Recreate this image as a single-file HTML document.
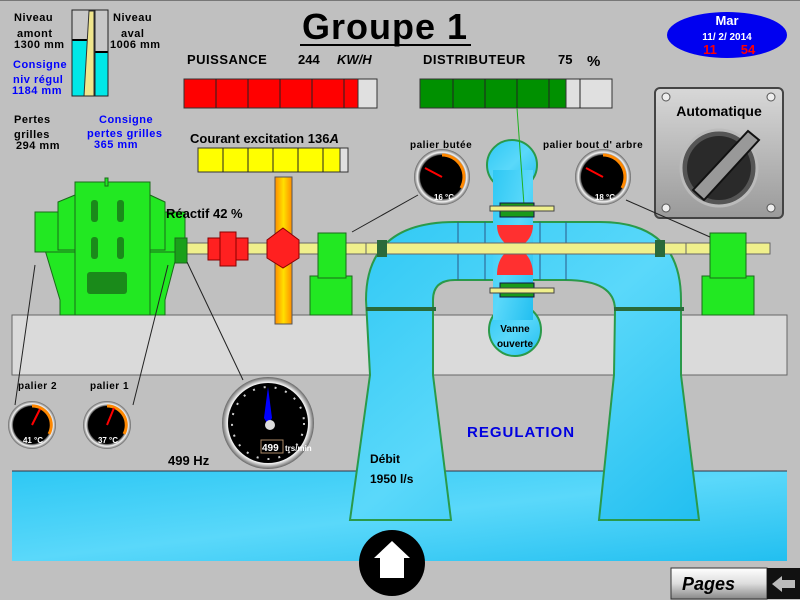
<!DOCTYPE html>
<html><head><meta charset="utf-8"><style>
html,body{margin:0;padding:0;background:#c0c0c0;}
svg{display:block;}
text{font-family:"Liberation Sans",sans-serif;font-weight:bold;}
</style></head><body>
<svg width="800" height="600" viewBox="0 0 800 600" xmlns="http://www.w3.org/2000/svg">
<defs>
<linearGradient id="wat" x1="0" y1="0" x2="1" y2="1"><stop offset="0" stop-color="#2ec8f4"/><stop offset="0.5" stop-color="#5ad8fa"/><stop offset="1" stop-color="#22bff0"/></linearGradient>
<linearGradient id="org" x1="0" x2="1"><stop offset="0" stop-color="#ff8c00"/><stop offset="0.5" stop-color="#ffe000"/><stop offset="1" stop-color="#ff8c00"/></linearGradient>
<linearGradient id="pnl" x1="0" y1="0" x2="0" y2="1"><stop offset="0" stop-color="#d8d8d8"/><stop offset="1" stop-color="#9a9a9a"/></linearGradient>
<linearGradient id="btn" x1="0" y1="0" x2="0" y2="1"><stop offset="0" stop-color="#fff"/><stop offset="0.5" stop-color="#ddd"/><stop offset="1" stop-color="#888"/></linearGradient>
<radialGradient id="bez"><stop offset="0.78" stop-color="#333"/><stop offset="0.88" stop-color="#f4f4f4"/><stop offset="1" stop-color="#666"/></radialGradient>
</defs>
<rect width="800" height="600" fill="#c0c0c0"/>
<line x1="0" y1="0.5" x2="800" y2="0.5" stroke="#777"/>
<!-- concrete -->
<rect x="12" y="315" width="775" height="60" fill="#dadada" stroke="#666"/>
<!-- water bottom -->
<rect x="12" y="471" width="775" height="90" fill="url(#wat)"/>
<line x1="12" y1="471" x2="787" y2="471" stroke="#334"/>

<!-- level gauge -->
<rect x="72" y="10" width="36" height="86" fill="#c8c8c8" stroke="#222"/>
<rect x="72" y="40" width="15" height="56" fill="#00e8e8"/>
<line x1="72" y1="40" x2="87" y2="40" stroke="#000" stroke-width="2"/>
<rect x="95" y="52" width="13" height="44" fill="#00e8e8"/>
<line x1="95" y1="52" x2="108" y2="52" stroke="#000" stroke-width="2"/>
<polygon points="89,11 94,11 94,96 84,96" fill="#f0e68c" stroke="#333"/>
<line x1="95" y1="10" x2="95" y2="96" stroke="#222"/>
<rect x="72" y="10" width="36" height="86" fill="none" stroke="#222"/>

<g font-size="11" fill="#000" letter-spacing="0.5">
<text x="14" y="21">Niveau</text><text x="17" y="37">amont</text><text x="14" y="48">1300  mm</text>
<text x="113" y="21">Niveau</text><text x="121" y="37">aval</text><text x="110" y="48">1006  mm</text>
<text x="14" y="123">Pertes</text><text x="14" y="138">grilles</text><text x="16" y="149">294   mm</text>
</g>
<g font-size="11" fill="#0000ff" letter-spacing="0.5">
<text x="13" y="68">Consigne</text><text x="13" y="83">niv régul</text><text x="12" y="94">1184  mm</text>
<text x="99" y="123">Consigne</text><text x="87" y="137">pertes grilles</text><text x="94" y="148">365   mm</text>
</g>

<!-- title -->
<text x="385" y="39" font-size="36" text-anchor="middle" letter-spacing="1">Groupe 1</text>
<line x1="300" y1="45" x2="471" y2="45" stroke="#000" stroke-width="2"/>

<!-- date -->
<ellipse cx="727" cy="35" rx="60" ry="23" fill="#0000f0"/>
<text x="727" y="25" font-size="13" fill="#fff" text-anchor="middle">Mar</text>
<text x="727" y="40" font-size="10" fill="#fff" text-anchor="middle">11/    2/  2014</text>
<text x="710" y="54" font-size="13" fill="#ff0000" text-anchor="middle">11</text>
<text x="748" y="54" font-size="13" fill="#ff0000" text-anchor="middle">54</text>

<!-- puissance -->
<text x="187" y="64" font-size="13" letter-spacing="0.5">PUISSANCE</text>
<text x="298" y="64" font-size="13">244</text><text x="337" y="64" font-size="13" font-style="italic">KW/H</text>
<rect x="184" y="79" width="193" height="29" fill="#e0e0e0" stroke="#333"/>
<rect x="184" y="79" width="174" height="29" fill="#ff0000" stroke="#333"/>
<g stroke="#222"><line x1="216" y1="79" x2="216" y2="108"/><line x1="248" y1="79" x2="248" y2="108"/><line x1="280" y1="79" x2="280" y2="108"/><line x1="312" y1="79" x2="312" y2="108"/><line x1="344" y1="79" x2="344" y2="108"/></g>

<!-- distributeur -->
<text x="423" y="64" font-size="13" letter-spacing="0.5">DISTRIBUTEUR</text>
<text x="558" y="64" font-size="13">75</text><text x="587" y="66" font-size="15" font-weight="normal">%</text>
<rect x="420" y="79" width="192" height="29" fill="#e0e0e0" stroke="#333"/>
<rect x="420" y="79" width="146" height="29" fill="#009000" stroke="#333"/>
<g stroke="#222"><line x1="453" y1="79" x2="453" y2="108"/><line x1="485" y1="79" x2="485" y2="108"/><line x1="517" y1="79" x2="517" y2="108"/><line x1="549" y1="79" x2="549" y2="108"/><line x1="580" y1="79" x2="580" y2="108"/></g>

<!-- courant -->
<text x="190" y="143" font-size="13">Courant excitation  136<tspan font-style="italic">A</tspan></text>
<rect x="198" y="148" width="150" height="24" fill="#e0e0e0" stroke="#333"/>
<rect x="198" y="148" width="142" height="24" fill="#ffff00" stroke="#333"/>
<g stroke="#222"><line x1="223" y1="148" x2="223" y2="172"/><line x1="248" y1="148" x2="248" y2="172"/><line x1="273" y1="148" x2="273" y2="172"/><line x1="298" y1="148" x2="298" y2="172"/><line x1="323" y1="148" x2="323" y2="172"/></g>

<!-- Automatique panel -->
<rect x="655" y="88" width="128" height="130" rx="5" fill="url(#pnl)" stroke="#444" stroke-width="2"/>
<text x="719" y="116" font-size="14" text-anchor="middle">Automatique</text>
<circle cx="719" cy="168" r="38" fill="#555" stroke="#bbb" stroke-width="3"/>
<circle cx="719" cy="168" r="32" fill="#2a2a2a"/>
<polygon points="693,190 748,131 759,140 704,200" fill="#999" stroke="#111" stroke-width="2"/>
<g fill="#eee" stroke="#555"><circle cx="666" cy="97" r="4"/><circle cx="771" cy="97" r="4"/><circle cx="666" cy="208" r="4"/><circle cx="771" cy="208" r="4"/></g>

<!-- shaft -->
<rect x="180" y="243" width="590" height="11" fill="#f0f08c" stroke="#666"/>
<!-- vertical orange -->
<rect x="275" y="177" width="17" height="147" fill="url(#org)" stroke="#555"/>
<path d="M283,228 L299,240 L299,258 L283,268 L267,258 L267,240 Z" fill="#ff2020" stroke="#800"/>
<!-- red coupling -->
<rect x="208" y="238" width="40" height="22" fill="#ff2020" stroke="#800"/>
<rect x="220" y="232" width="16" height="34" fill="#ff2020" stroke="#800"/>

<!-- generator -->
<g fill="#22e822" stroke="#1a6a1a">
<path d="M45,250 L60,300 L60,315 L165,315 L165,300 L178,250 Z"/>
<rect x="35" y="212" width="150" height="40"/>
<path d="M58,202 L75,195 L75,182 L150,182 L150,195 L165,202 L165,250 L58,250 Z"/>
<rect x="75" y="182" width="75" height="133"/>
<rect x="105" y="178" width="3" height="8"/>
<rect x="175" y="238" width="12" height="25" fill="#1aa01a"/>
</g>
<g fill="#1a8a1a"><rect x="91" y="200" width="7" height="22" rx="3"/><rect x="117" y="200" width="7" height="22" rx="3"/><rect x="91" y="237" width="7" height="22" rx="3"/><rect x="117" y="237" width="7" height="22" rx="3"/><rect x="87" y="272" width="40" height="22" rx="3"/></g>
<text x="166" y="218" font-size="13">Réactif   42  %</text>

<!-- right bearings -->
<g fill="#22e822" stroke="#1a6a1a">
<rect x="310" y="276" width="42" height="39"/><rect x="318" y="233" width="28" height="45"/>
<rect x="702" y="276" width="52" height="39"/><rect x="710" y="233" width="36" height="45"/>
</g>

<!-- turbine water -->
<g fill="url(#wat)" stroke="#2a9a4a" stroke-width="2">
<path d="M370,375 L350,520 L451,520 L433,375 L433,300 Q433,280 455,280 L565,280 Q615,280 615,310 L614,375 L599,520 L699,520 L681,375 L681,300 Q681,222 600,222 L455,222 Q366,222 366,300 Z"/>
<circle cx="512" cy="165" r="25"/>
<circle cx="515" cy="330" r="26"/>
</g>
<rect x="493" y="170" width="40" height="150" fill="url(#wat)"/>
<line x1="517" y1="108" x2="524" y2="205" stroke="#20b020"/>
<g stroke="#2a5a8a" fill="none"><line x1="458" y1="222" x2="458" y2="280"/><line x1="566" y1="222" x2="566" y2="280"/><line x1="485" y1="222" x2="485" y2="280"/><line x1="540" y1="222" x2="540" y2="280"/></g>
<path d="M497,225 L533,225 Q533,240 518,248 Q533,256 533,275 L497,275 Q497,256 512,248 Q497,240 497,225 Z" fill="#ff3030"/>
<rect x="366" y="243" width="320" height="11" fill="#f0f08c" stroke="#666"/>
<g fill="#1a9a1a" stroke="#114"><rect x="500" y="203" width="34" height="14"/><rect x="500" y="283" width="34" height="14"/></g>
<g fill="#f0f08c" stroke="#444"><rect x="490" y="206" width="64" height="5"/><rect x="490" y="288" width="64" height="5"/></g>
<g fill="#2a6a3a"><rect x="366" y="307" width="70" height="4"/><rect x="614" y="307" width="70" height="4"/><rect x="377" y="240" width="10" height="17"/><rect x="655" y="240" width="10" height="17"/></g>
<text x="515" y="332" font-size="10" text-anchor="middle">Vanne</text>
<text x="515" y="347" font-size="10" text-anchor="middle">ouverte</text>

<!-- connector lines -->
<g stroke="#222" stroke-width="1"><line x1="35" y1="265" x2="15" y2="405"/><line x1="168" y1="265" x2="133" y2="405"/><line x1="187" y1="262" x2="243" y2="380"/><line x1="352" y1="232" x2="418" y2="195"/><line x1="626" y1="200" x2="710" y2="237"/></g>

<!-- small gauges -->
<g>
<circle cx="32" cy="425" r="24" fill="url(#bez)"/><circle cx="32" cy="425" r="19" fill="#000"/>
<path d="M32,406 A19,19 0 0 1 49,434" fill="none" stroke="#f80" stroke-width="3"/><line x1="32" y1="425" x2="40" y2="409" stroke="#f00" stroke-width="2"/>
<text x="33" y="443" font-size="8" fill="#fff" text-anchor="middle">41 °C</text>
<circle cx="107" cy="425" r="24" fill="url(#bez)"/><circle cx="107" cy="425" r="19" fill="#000"/>
<path d="M107,406 A19,19 0 0 1 124,434" fill="none" stroke="#f80" stroke-width="3"/><line x1="107" y1="425" x2="114" y2="408" stroke="#f00" stroke-width="2"/>
<text x="108" y="443" font-size="8" fill="#fff" text-anchor="middle">37 °C</text>
<circle cx="442" cy="177" r="28" fill="url(#bez)"/><circle cx="442" cy="177" r="22" fill="#000"/>
<path d="M442,155 A22,22 0 0 1 461,188" fill="none" stroke="#f80" stroke-width="3"/><line x1="442" y1="177" x2="425" y2="168" stroke="#f00" stroke-width="2"/>
<text x="444" y="200" font-size="8" fill="#fff" text-anchor="middle">16 °C</text>
<circle cx="603" cy="177" r="28" fill="url(#bez)"/><circle cx="603" cy="177" r="22" fill="#000"/>
<path d="M603,155 A22,22 0 0 1 622,188" fill="none" stroke="#f80" stroke-width="3"/><line x1="603" y1="177" x2="586" y2="168" stroke="#f00" stroke-width="2"/>
<text x="605" y="200" font-size="8" fill="#fff" text-anchor="middle">18 °C</text>
</g>
<g font-size="10" letter-spacing="0.5"><text x="18" y="389">palier 2</text><text x="90" y="389">palier 1</text><text x="410" y="148">palier butée</text><text x="543" y="148">palier bout d' arbre</text></g>

<!-- big gauge -->
<circle cx="268" cy="423" r="46" fill="url(#bez)"/><circle cx="268" cy="423" r="40" fill="#000"/>
<circle cx="268" cy="423" r="36" fill="none" stroke="#ccc" stroke-width="2" stroke-dasharray="2 9"/>
<polygon points="268,387 272,418 268,425 264,418" fill="#00f"/>
<circle cx="270" cy="425" r="5" fill="#ddd"/>
<rect x="261" y="440" width="22" height="13" fill="#000" stroke="#a86"/>
<text x="262" y="451" font-size="10" fill="#fff">499</text><text x="285" y="451" font-size="8" fill="#fff">trs/min</text>
<text x="168" y="465" font-size="13">499  Hz</text>

<text x="467" y="437" font-size="15" fill="#0000e0" letter-spacing="1">REGULATION</text>
<text x="370" y="463" font-size="12">Débit</text>
<text x="370" y="483" font-size="12">1950  l/s</text>

<!-- home -->
<circle cx="392" cy="563" r="33" fill="#000"/>
<polygon points="392,541 374,558 380,558 380,578 404,578 404,558 410,558" fill="#fff"/>

<!-- pages -->
<rect x="671" y="568" width="96" height="31" fill="url(#btn)" stroke="#333"/>
<text x="682" y="590" font-size="18" font-style="italic">Pages</text>
<rect x="767" y="568" width="33" height="31" fill="#111"/>
<polygon points="772,584 782,576 782,580 795,580 795,588 782,588 782,592" fill="#bbb"/>
</svg>
</body></html>
